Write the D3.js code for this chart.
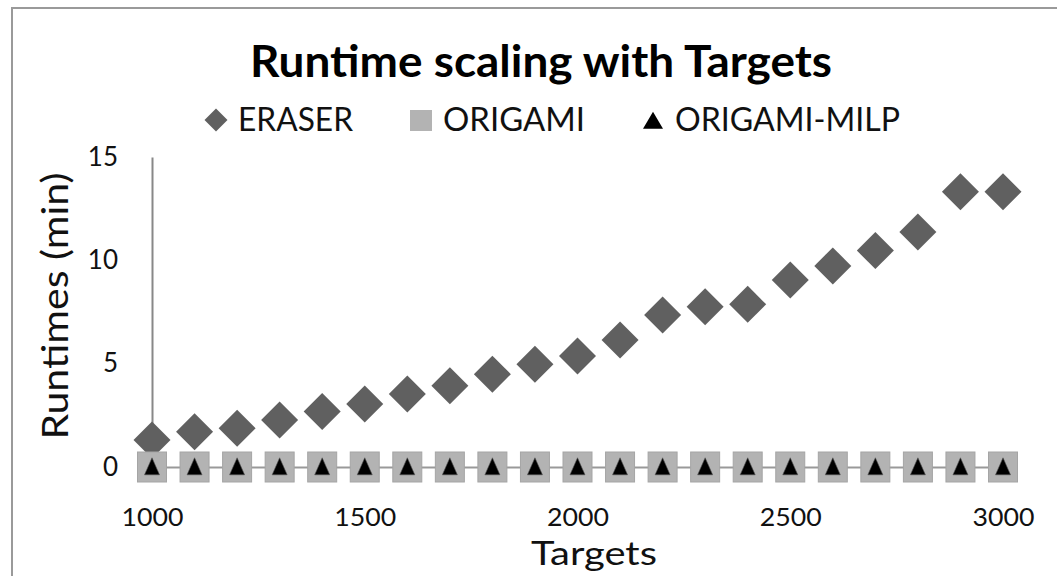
<!DOCTYPE html>
<html><head><meta charset="utf-8">
<script src="https://cdn.jsdelivr.net/npm/d3@7"></script>
<style>html,body{margin:0;padding:0;background:#fff;}svg{display:block;}</style>
</head><body>
<svg id="chart" width="1057" height="576"></svg>
<script>
const targets = [1000,1100,1200,1300,1400,1500,1600,1700,1800,1900,2000,2100,2200,2300,2400,2500,2600,2700,2800,2900,3000];
const eraser = [1.31,1.71,1.87,2.27,2.68,3.05,3.53,3.93,4.49,4.97,5.37,6.15,7.35,7.76,7.87,9.05,9.73,10.47,11.37,13.32,13.32];
const origami = [0,0,0,0,0,0,0,0,0,0,0,0,0,0,0,0,0,0,0,0,0];
const origamiMilp = [0,0,0,0,0,0,0,0,0,0,0,0,0,0,0,0,0,0,0,0,0];
const xTicks = [1000,1500,2000,2500,3000];
const yTicks = [0,5,10,15];
const seriesNames = ["ERASER","ORIGAMI","ORIGAMI-MILP"];

const svg = d3.select("#chart");
const FONT = "Lato, 'Open Sans', sans-serif";

svg.append("rect").attr("x",12).attr("y",8).attr("width",1100).attr("height",600)
  .attr("fill","#fff").attr("stroke","#9a9a9a").attr("stroke-width",2);

const x = d3.scaleLinear().domain([1000,3000]).range([152,1003]);
const y = d3.scaleLinear().domain([0,15]).range([467,157]);

// title
svg.append("text").attr("x",541).attr("y",77).attr("text-anchor","middle")
  .attr("font-family",FONT).attr("font-weight","bold").attr("font-size",43)
  .attr("textLength",582).attr("lengthAdjust","spacingAndGlyphs")
  .attr("fill","#000").text("Runtime scaling with Targets");

// axes
const yAxis = d3.axisLeft(y).tickValues(yTicks).tickSize(0).tickPadding(34).tickSizeOuter(0);
const gy = svg.append("g").attr("transform","translate(152,0)").call(yAxis);
gy.select(".domain").attr("stroke","#888").attr("stroke-width",2);
gy.selectAll("text").attr("font-family",FONT).attr("font-size",26).attr("fill","#111");

const xAxis = d3.axisBottom(x).tickValues(xTicks).tickSize(0).tickPadding(41).tickSizeOuter(0).tickFormat(d3.format("d"));
const gx = svg.append("g").attr("transform","translate(0,467)").call(xAxis);
gx.select(".domain").attr("stroke","#999").attr("stroke-width",2);
gx.selectAll("text").attr("font-family",FONT).attr("font-size",25).attr("fill","#111")
  .attr("textLength",62).attr("lengthAdjust","spacingAndGlyphs");

// axis titles
svg.append("text").attr("transform","translate(68,306) rotate(-90)").attr("text-anchor","middle")
  .attr("font-family",FONT).attr("font-size",37).attr("textLength",267).attr("lengthAdjust","spacingAndGlyphs")
  .attr("fill","#111").text("Runtimes (min)");
svg.append("text").attr("x",594).attr("y",565).attr("text-anchor","middle")
  .attr("font-family",FONT).attr("font-size",33).attr("textLength",126).attr("lengthAdjust","spacingAndGlyphs")
  .attr("fill","#111").text("Targets");

// marker generators
const diamond = (cx,cy,r) => { const p = d3.path(); p.moveTo(cx,cy-r); p.lineTo(cx+r,cy); p.lineTo(cx,cy+r); p.lineTo(cx-r,cy); p.closePath(); return p.toString(); };
const tri = (cx,cy,w,h) => { const p = d3.path(); p.moveTo(cx,cy-h*0.6); p.lineTo(cx+w/2,cy+h*0.4); p.lineTo(cx-w/2,cy+h*0.4); p.closePath(); return p.toString(); };

const data = targets.map((t,i)=>({t, e:eraser[i], o:origami[i], m:origamiMilp[i]}));

svg.append("g").selectAll("path").data(data).join("path")
  .attr("d",d=>diamond(x(d.t),y(d.e),18.5)).attr("fill","#606060");
svg.append("g").selectAll("rect").data(data).join("rect")
  .attr("x",d=>x(d.t)-14.5).attr("y",d=>y(d.o)-15).attr("width",29).attr("height",30)
  .attr("fill","#b3b3b3").attr("stroke","#a5a5a5").attr("stroke-width",1);
svg.append("g").selectAll("path").data(data).join("path")
  .attr("d",d=>tri(x(d.t),y(d.m)+1,15,17)).attr("fill","#000").attr("stroke","#555").attr("stroke-width",0.6);

// legend
const lg = svg.append("g").attr("font-family",FONT).attr("font-size",32).attr("fill","#111");
lg.append("path").attr("d",diamond(216,120,11.5)).attr("fill","#606060");
lg.append("text").attr("x",238).attr("y",131).attr("textLength",115).attr("lengthAdjust","spacingAndGlyphs").text(seriesNames[0]);
lg.append("rect").attr("x",410).attr("y",110).attr("width",22).attr("height",21).attr("fill","#b3b3b3");
lg.append("text").attr("x",443).attr("y",131).attr("textLength",142).attr("lengthAdjust","spacingAndGlyphs").text(seriesNames[1]);
lg.append("path").attr("d",tri(653,122,20,17)).attr("fill","#000");
lg.append("text").attr("x",675).attr("y",131).attr("textLength",225).attr("lengthAdjust","spacingAndGlyphs").text(seriesNames[2]);
</script>
</body></html>
